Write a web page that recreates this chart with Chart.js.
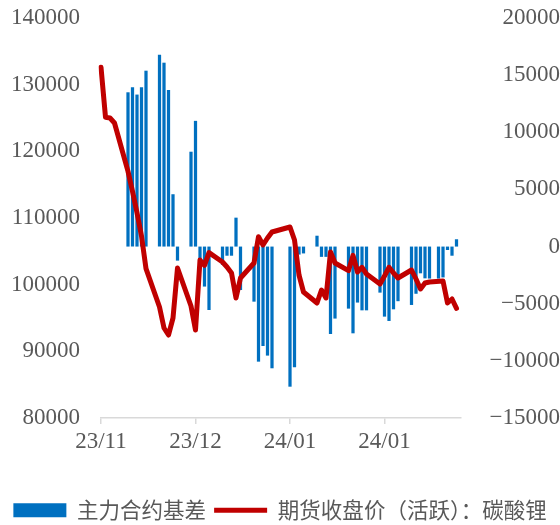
<!DOCTYPE html>
<html>
<head>
<meta charset="utf-8">
<script src="https://cdn.jsdelivr.net/npm/chart.js@4"></script>
<style>
  html, body { margin: 0; padding: 0; background: #fff; }
  #wrap { width: 560px; height: 525px; }
</style>
</head>
<body>
<div id="wrap"><canvas id="chart" width="560" height="525"></canvas></div>
<script>
// calendar days 2023-11-21 .. 2024-02-09 (weekends / holidays left empty)
const dates = [
  '2023-11-21','2023-11-22','2023-11-23','2023-11-24','2023-11-25','2023-11-26','2023-11-27','2023-11-28','2023-11-29','2023-11-30',
  '2023-12-01','2023-12-02','2023-12-03','2023-12-04','2023-12-05','2023-12-06','2023-12-07','2023-12-08','2023-12-09','2023-12-10',
  '2023-12-11','2023-12-12','2023-12-13','2023-12-14','2023-12-15','2023-12-16','2023-12-17','2023-12-18','2023-12-19','2023-12-20',
  '2023-12-21','2023-12-22','2023-12-23','2023-12-24','2023-12-25','2023-12-26','2023-12-27','2023-12-28','2023-12-29','2023-12-30',
  '2023-12-31','2024-01-01','2024-01-02','2024-01-03','2024-01-04','2024-01-05','2024-01-06','2024-01-07','2024-01-08','2024-01-09',
  '2024-01-10','2024-01-11','2024-01-12','2024-01-13','2024-01-14','2024-01-15','2024-01-16','2024-01-17','2024-01-18','2024-01-19',
  '2024-01-20','2024-01-21','2024-01-22','2024-01-23','2024-01-24','2024-01-25','2024-01-26','2024-01-27','2024-01-28','2024-01-29',
  '2024-01-30','2024-01-31','2024-02-01','2024-02-02','2024-02-03','2024-02-04','2024-02-05','2024-02-06','2024-02-07','2024-02-08',
  '2024-02-09'
];

// 主力合约基差 (right axis)
const basis = [
  null, null, null, null, null, null, 13500, 13940, 13300, 13940,
  15390, null, null, 16790, 16090, 13700, 4580, -1230, null, null,
  8300, 11000, -1900, -3500, -5550, null, null, -1600, -800, -800,
  2530, -3800, null, null, -4820, -10070, -8700, -9540, -10650, null,
  null, null, -12260, -10560, -700, -600, null, null, 950, -900,
  -900, -7650, -6300, null, null, -5430, -7590, -4900, -5580, -5580,
  null, null, -4030, -6130, -6510, -5490, -4780, null, null, -5110,
  -4130, -2340, -2780, -2800, null, -2800, -2700, -300, -800, 640,
  null
];

// 期货收盘价(活跃):碳酸锂 (left axis)
const price = [
  132600, 125100, 125000, 124250, null, null, 117000, 114000, 110800, 107300,
  102400, null, null, 96650, 93500, 92450, 95000, 102500, null, null,
  96800, 93200, 103700, 102900, 104800, null, null, 103400, 102650, 101750,
  98000, 101000, null, null, 103250, 107200, 105950, 107000, 107900, null,
  null, null, 108650, 106700, 101450, 98900, null, null, 97250, 99200,
  98000, 104900, 103250, null, null, 102100, 104400, 101900, 102600, 101600,
  null, null, 100100, 101300, 102600, 101750, 101000, null, null, 102200,
  100850, 99350, 100250, 100400, null, null, 100550, 97250, 97850, 96450,
  null
];

const tickEvery = 21;
const leftTicks = { min: 80000, max: 140000, step: 10000 };
const rightTicks = { min: -15000, max: 20000, step: 5000 };

const grey = '#595959';
const numFont = { family: "'Liberation Serif', serif", size: 23 };

// keep the value axes flush with the plot top
const fixPad = axis => { axis.paddingTop = 18; axis.paddingBottom = 10; };

new Chart(document.getElementById('chart'), {
  data: {
    labels: dates,
    datasets: [
      {
        type: 'bar',
        label: '主力合约基差',
        data: basis,
        yAxisID: 'y1',
        backgroundColor: '#0070C0',
        borderWidth: 0,
        barPercentage: 0.72,
        categoryPercentage: 1,
        pointStyle: 'rect',
        order: 2
      },
      {
        type: 'line',
        label: '期货收盘价（活跃）：碳酸锂',
        data: price,
        yAxisID: 'y',
        borderColor: '#C00000',
        backgroundColor: '#C00000',
        borderWidth: 5,
        borderJoinStyle: 'round',
        borderCapStyle: 'round',
        pointRadius: 0,
        pointStyle: 'line',
        spanGaps: true,
        tension: 0,
        order: 1
      }
    ]
  },
  options: {
    responsive: false,
    animation: false,
    layout: { padding: { left: 0, right: 0, top: 0, bottom: -6 } },
    plugins: {
      tooltip: { enabled: false },
      legend: {
        position: 'bottom',
        labels: {
          usePointStyle: true,
          pointStyleWidth: 53,
          boxHeight: 14,
          padding: 8,
          color: grey,
          font: { family: "'Noto Sans CJK SC', sans-serif", size: 21.5 },
          sort: (a, b) => a.datasetIndex - b.datasetIndex
        }
      }
    },
    scales: {
      x: {
        offset: false,
        grid: { display: true, offset: false, drawOnChartArea: false, drawTicks: true, tickLength: 6, color: '#D9D9D9', lineWidth: 1.5 },
        border: { display: true, color: '#D9D9D9', width: 1.5 },
        afterBuildTicks: axis => { axis.ticks = axis.ticks.filter(t => t.value % tickEvery === 0); },
        afterFit: axis => { axis.height = 73.5; },
        ticks: {
          autoSkip: false,
          maxRotation: 0,
          padding: 4,
          color: grey,
          font: numFont,
          callback: function (value) {
            const d = this.getLabelForValue(value);
            return d.slice(2, 4) + '/' + d.slice(5, 7);
          }
        }
      },
      y: {
        position: 'left',
        min: leftTicks.min,
        max: leftTicks.max,
        grid: { display: false, drawTicks: false },
        border: { display: false },
        afterFit: axis => { axis.width = 101; fixPad(axis); },
        ticks: { stepSize: leftTicks.step, padding: 21, color: grey, font: numFont, callback: v => String(v) }
      },
      y1: {
        position: 'right',
        min: rightTicks.min,
        max: rightTicks.max,
        grid: { display: false, drawTicks: false },
        border: { display: false },
        afterFit: axis => { axis.width = 99; fixPad(axis); },
        ticks: {
          stepSize: rightTicks.step, padding: 18, crossAlign: 'far', color: grey, font: numFont,
          callback: v => (v < 0 ? '\u2212' + Math.abs(v) : String(v))
        }
      }
    }
  }
});
</script>
</body>
</html>
